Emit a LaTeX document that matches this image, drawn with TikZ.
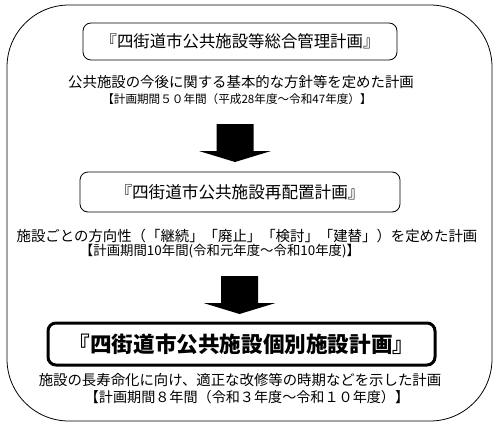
\documentclass[tikz,border=0pt]{standalone}
\usepackage{fontspec}
\setmainfont{Noto Sans CJK JP}
\usetikzlibrary{positioning}

\begin{document}
\begin{tikzpicture}[x=1pt, y=-1pt, every node/.style={inner sep=0pt},
	planbox/.style={draw, rounded corners=8pt, line width=0.8pt, minimum height=37pt},
	desc/.style={font=\fontsize{14.4}{16}\selectfont},
	term/.style={font=\fontsize{13.4}{15}\selectfont}]
	\useasboundingbox (0,0) rectangle (500,431);
	\draw[line width=0.8pt, rounded corners=62pt] (7,5) rectangle (492,421);
	\node[planbox, minimum width=314pt, font=\fontsize{16.4}{18}\selectfont] (kanri) at (240,41.5) {『四街道市公共施設等総合管理計画』};
	\node[desc] (kanridesc) at (241,82) {公共施設の今後に関する基本的な方針等を定めた計画};
	\node[term, font=\fontsize{11.6}{14}\selectfont] (kanriterm) at (237,99) {【計画期間５０年間（平成28年度～令和47年度）】};
	\node[planbox, minimum width=320pt, minimum height=40pt, font=\fontsize{16.6}{18}\selectfont] (saihaichi) at (240,192) {『四街道市公共施設再配置計画』};
	\node[desc] (saihaichidesc) at (247,236) {施設ごとの方向性（「継続」「廃止」「検討」「建替」）を定めた計画};
	\node[term] (saihaichiterm) at (220,251) {【計画期間10年間(令和元年度～令和10年度)】};
	\node[planbox, line width=3pt, minimum width=387pt, minimum height=42pt, font=\fontsize{21.6}{24}\selectfont\bfseries] (kobetsu) at (241.5,344) {『四街道市公共施設個別施設計画』};
	\node[desc] (kobetsudesc) at (240,380) {施設の長寿命化に向け、適正な改修等の時期などを示した計画};
	\node[term, font=\fontsize{14.1}{16}\selectfont] (kobetsuterm) at (247,397) {【計画期間８年間（令和３年度～令和１０年度）】};
	\foreach \x/\y in {235/124, 239.5/276}
		\fill (\x-18.5,\y) -- ++(37,0) -- ++(0,27) -- ++(17.5,0) -- (\x,\y+38) -- (\x-36,\y+27) -- ++(17.5,0) -- cycle;
\end{tikzpicture}
\end{document}
